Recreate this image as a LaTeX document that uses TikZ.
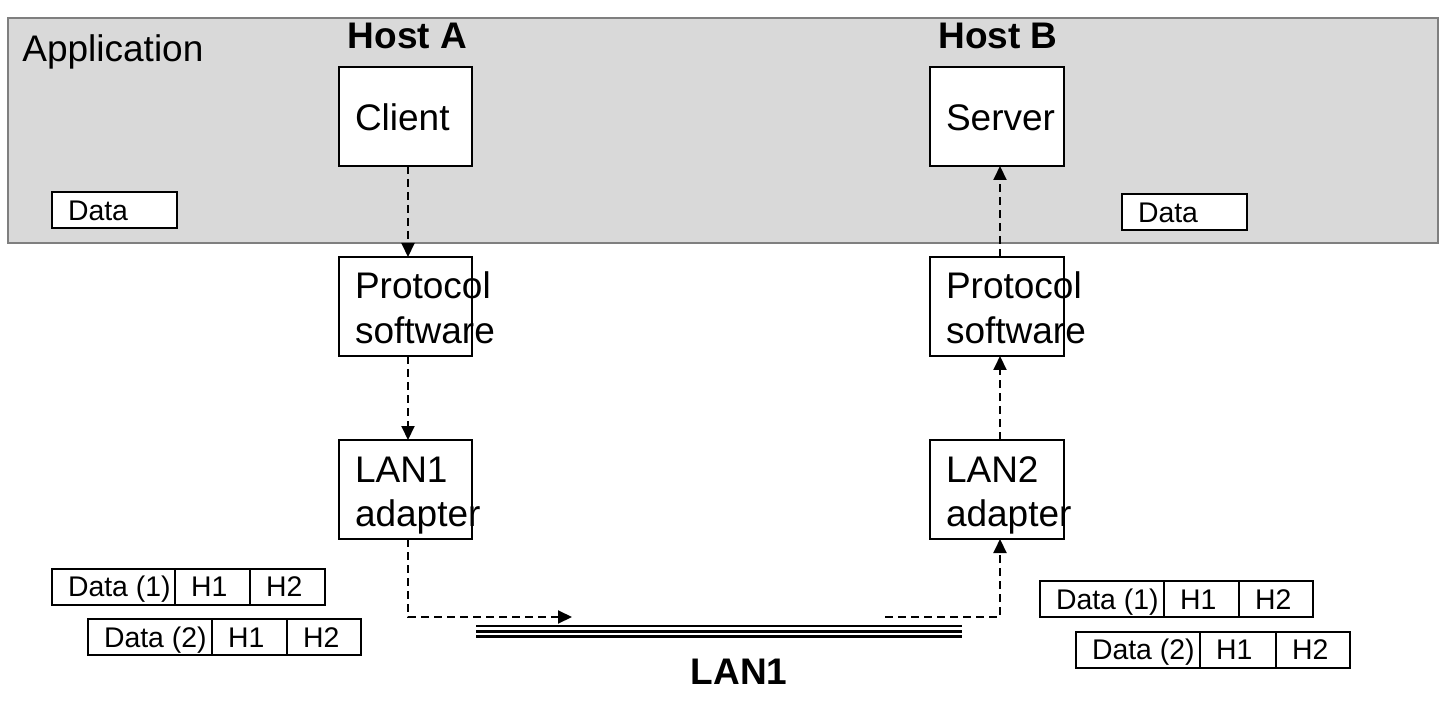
\documentclass[tikz,border=0pt]{standalone}
\usepackage{fontspec}
\setmainfont{Liberation Sans}
\usetikzlibrary{arrows.meta,calc}
\definecolor{appgrey}{HTML}{D9D9D9}
\definecolor{appedge}{HTML}{7F7F7F}
\newcommand\padtext[2]{\makebox[#1][l]{\hspace{8pt}#2}}
\newcommand\bigfnt{\fontsize{18.5}{22.2}\selectfont}
\newcommand\smallfnt{\fontsize{14.2}{17}\selectfont}
\begin{document}
\begin{tikzpicture}[x=0.5pt,y=-0.5pt,
  mainbox/.style={draw,line width=1pt,fill=white,inner sep=0pt,outer sep=0pt,minimum height=49.5pt,font=\bigfnt,text height=14pt,text depth=0pt},
  twoline/.style={text height=10pt,text depth=17.5pt},
  databox/.style={draw,line width=1pt,fill=white,inner sep=0pt,outer sep=0pt,minimum height=18pt,font=\smallfnt,text height=10.2pt,text depth=0pt},
  cell/.style={databox,anchor=west},
  arr/.style={line width=1pt,dash pattern=on 4pt off 2.5pt,-{Triangle[length=7pt,width=6.5pt]}},
  title/.style={font=\bigfnt\bfseries,anchor=base},
  lanline/.style={line width=#1}]
\useasboundingbox (0,0) rectangle (1439,716);
\fill[white] (0,0) rectangle (1439,716);
% application layer
\draw[fill=appgrey,draw=appedge,line width=0.75pt] (8,18) rectangle (1438,243);
\node[font=\bigfnt,anchor=base west,inner sep=0pt] (app) at (22,62) {Application};
\node[title] (hostA) at (407.5,49) {Host A};
\node[title] (hostB) at (998,49) {Host B};
% host A
\node[mainbox] (client) at (405.5,116.5) {\padtext{66.5pt}{Client}};
\node[mainbox,twoline] (protoA) at (405.5,306.5) {\padtext{66.5pt}{\begin{tabular}[t]{@{}l@{}}Protocol\\software\end{tabular}}};
\node[mainbox,twoline] (lanA) at (405.5,489.5) {\padtext{66.5pt}{\begin{tabular}[t]{@{}l@{}}LAN1\\adapter\end{tabular}}};
% host B
\node[mainbox] (server) at (997,116.5) {\padtext{67pt}{Server}};
\node[mainbox,twoline] (protoB) at (997,306.5) {\padtext{67pt}{\begin{tabular}[t]{@{}l@{}}Protocol\\software\end{tabular}}};
\node[mainbox,twoline] (lanB) at (997,489.5) {\padtext{67pt}{\begin{tabular}[t]{@{}l@{}}LAN2\\adapter\end{tabular}}};
% data boxes
\node[databox] (dataA) at (114.5,210) {\padtext{62.5pt}{Data}};
\node[databox] (dataB) at (1184.5,212.5) {\padtext{62.5pt}{Data}};
% arrows
\draw[arr] ([xshift=1.25pt]client.south) -- ([xshift=1.25pt]protoA.north);
\draw[arr] ([xshift=1.25pt]protoA.south) -- ([xshift=1.25pt]lanA.north);
\draw[arr] ([xshift=1.5pt]protoB.north) -- ([xshift=1.5pt]server.south);
\draw[arr] ([xshift=1.5pt]lanB.north) -- ([xshift=1.5pt]protoB.south);
\coordinate (lanIn) at (572,617);
\coordinate (lanOut) at (885,617);
\draw[arr] ([xshift=1.25pt]lanA.south) |- (lanIn);
\draw[arr] (lanOut) -| ([xshift=1.5pt]lanB.south);
% LAN medium
\coordinate (lanW) at (476,626);
\coordinate (lanE) at (962,626);
\draw[lanline=1pt] (lanW) -- (lanE);
\draw[lanline=1.8pt] ([yshift=-2.8pt]lanW) -- ([yshift=-2.8pt]lanE);
\draw[lanline=1.3pt] ([yshift=-5.3pt]lanW) -- ([yshift=-5.3pt]lanE);
\node[title] (lan1) at (739,684) {LAN1};
% packets left
\node[cell] (a1d) at (52,586.5) {\padtext{61.5pt}{Data (1)}};
\node[cell] (a1h) at (a1d.east) {\padtext{37.5pt}{H1}};
\node[cell] (a1g) at (a1h.east) {\padtext{37.5pt}{H2}};
\node[cell] (a2d) at (88,637) {\padtext{62pt}{Data (2)}};
\node[cell] (a2h) at (a2d.east) {\padtext{37.5pt}{H1}};
\node[cell] (a2g) at (a2h.east) {\padtext{37pt}{H2}};
% packets right
\node[cell] (b1d) at (1040,599) {\padtext{62pt}{Data (1)}};
\node[cell] (b1h) at (b1d.east) {\padtext{37.5pt}{H1}};
\node[cell] (b1g) at (b1h.east) {\padtext{37pt}{H2}};
\node[cell] (b2d) at (1076,649.5) {\padtext{62pt}{Data (2)}};
\node[cell] (b2h) at (b2d.east) {\padtext{38pt}{H1}};
\node[cell] (b2g) at (b2h.east) {\padtext{37pt}{H2}};
\end{tikzpicture}
\end{document}
